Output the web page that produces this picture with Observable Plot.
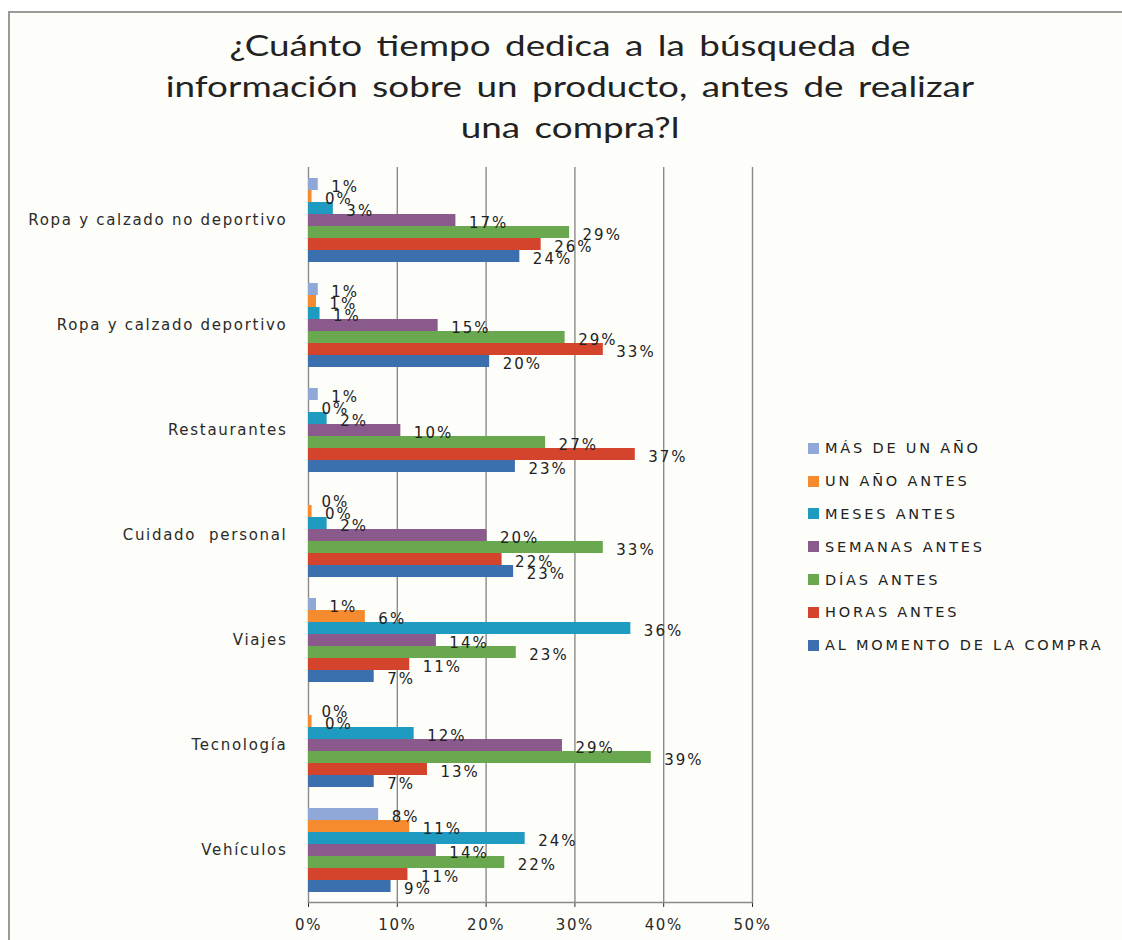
<!DOCTYPE html>
<html>
<head>
<meta charset="utf-8">
<script src="https://cdn.jsdelivr.net/npm/d3@7"></script>
<script src="https://cdn.jsdelivr.net/npm/@observablehq/plot@0.6"></script>
<style>
  body { margin: 0; background: #ffffff; }
  #wrap { position: relative; width: 1122px; height: 940px; overflow: hidden; }
  #frame { position: absolute; left: 8px; top: 11px; width: 1130px; height: 940px;
           border-left: 2px solid #9a9a9a; border-top: 2px solid #9a9a9a; background: #fdfdf9; }
  #title { position: absolute; left: 0; top: 24px; width: 1140px; text-align: center;
           font-family: Lato, "Open Sans", sans-serif; font-size: 29px; line-height: 41px;
           color: #222; letter-spacing: 0; word-spacing: 4px;
           transform: scaleX(1.27); transform-origin: 570px 0; }
  #chart { position: absolute; left: 0; top: 0; }
  #legend { position: absolute; left: 808px; top: 432px; font-family: "DejaVu Sans", sans-serif;
            font-size: 14.5px; color: #222; letter-spacing: 2.8px; }
  #legend .row { display: flex; align-items: center; height: 32.8px; white-space: nowrap; }
  #legend .sw { width: 11px; height: 11px; margin-right: 6px; flex: none; }
  g[aria-label="text"] text { letter-spacing: 2px; }
  g[aria-label="fy-axis tick label"] text { letter-spacing: 1.7px; }
  g[aria-label="x-axis tick label"] text { letter-spacing: 1.6px; }
</style>
</head>
<body>
<div id="wrap">
  <div id="frame"></div>
  <div id="title">¿Cuánto tiempo dedica a la búsqueda de<br>información sobre un producto, antes de realizar<br>una compra?l</div>
  <div id="chart"></div>
  <div id="legend"></div>
</div>
<script>
// Categories (top to bottom)
const categories = [
  "Ropa y calzado no deportivo",
  "Ropa y calzado deportivo",
  "Restaurantes",
  "Cuidado  personal",
  "Viajes",
  "Tecnología",
  "Vehículos"
];
// Series (top to bottom within each group)
const series = [
  "MÁS DE UN AÑO",
  "UN AÑO ANTES",
  "MESES ANTES",
  "SEMANAS ANTES",
  "DÍAS ANTES",
  "HORAS ANTES",
  "AL MOMENTO DE LA COMPRA"
];
const colors = ["#8fa8d8", "#f58a2e", "#1f9ac0", "#8b5a8c", "#6aa84f", "#d4442d", "#3c6fae"];

// Values in %, one array per series, in category order
const masDeUnAno   = [1.1, 1.1, 1.1, 0.0, 0.9, 0.0, 7.9];
const unAnoAntes   = [0.4, 0.9, 0.0, 0.4, 6.4, 0.4, 11.4];
const mesesAntes   = [2.8, 1.3, 2.1, 2.1, 36.3, 11.9, 24.4];
const semanasAntes = [16.6, 14.6, 10.4, 20.1, 14.4, 28.6, 14.4];
const diasAntes    = [29.4, 28.9, 26.7, 33.2, 23.4, 38.6, 22.1];
const horasAntes   = [26.2, 33.2, 36.8, 21.8, 11.4, 13.4, 11.2];
const alMomento    = [23.8, 20.4, 23.3, 23.1, 7.4, 7.4, 9.3];

const xTicks = [0, 10, 20, 30, 40, 50];

const seriesValues = [masDeUnAno, unAnoAntes, mesesAntes, semanasAntes, diasAntes, horasAntes, alMomento];
const data = categories.flatMap((cat, i) =>
  series.map((s, j) => ({cat, series: s, value: seriesValues[j][i]}))
);
const lastCat = categories[categories.length - 1];

const chart = Plot.plot({
  width: 1122,
  height: 940,
  marginLeft: 308,
  marginRight: 370,
  marginTop: 166,
  marginBottom: 38,
  style: {background: "transparent", fontFamily: "DejaVu Sans, sans-serif", fontSize: "15px", color: "#2a2a2a", overflow: "visible"},
  x: {domain: [0, 50], ticks: xTicks, tickFormat: d => d + "%", label: null, tickSize: 5, tickPadding: 12},
  fy: {domain: categories, padding: 0, label: null, tickSize: 0, tickPadding: 21, axis: "left"},
  y: {domain: series, paddingInner: 0, paddingOuter: 0.73, axis: null},
  color: {domain: series, range: colors},
  marks: [
    Plot.ruleX(xTicks, {stroke: "#8a8a8a", strokeWidth: 1.4}),
    Plot.frame({anchor: "bottom", fy: () => lastCat, stroke: "#8a8a8a", strokeWidth: 1.4}),
    Plot.barX(data, {x: "value", y: "series", fy: "cat", fill: "series"}),
    Plot.text(data, {x: "value", y: "series", fy: "cat", text: d => Math.round(d.value) + "%",
      textAnchor: "start", dx: 13, dy: 3, fill: "#222", fontSize: 15})
  ]
});
document.getElementById("chart").appendChild(chart);

const legend = document.getElementById("legend");
const colorScale = chart.scale("color");
series.forEach((s) => {
  const row = document.createElement("div");
  row.className = "row";
  const sw = document.createElement("span");
  sw.className = "sw";
  sw.style.background = colorScale.apply(s);
  const t = document.createElement("span");
  t.textContent = s;
  row.appendChild(sw);
  row.appendChild(t);
  legend.appendChild(row);
});
</script>
</body>
</html>
